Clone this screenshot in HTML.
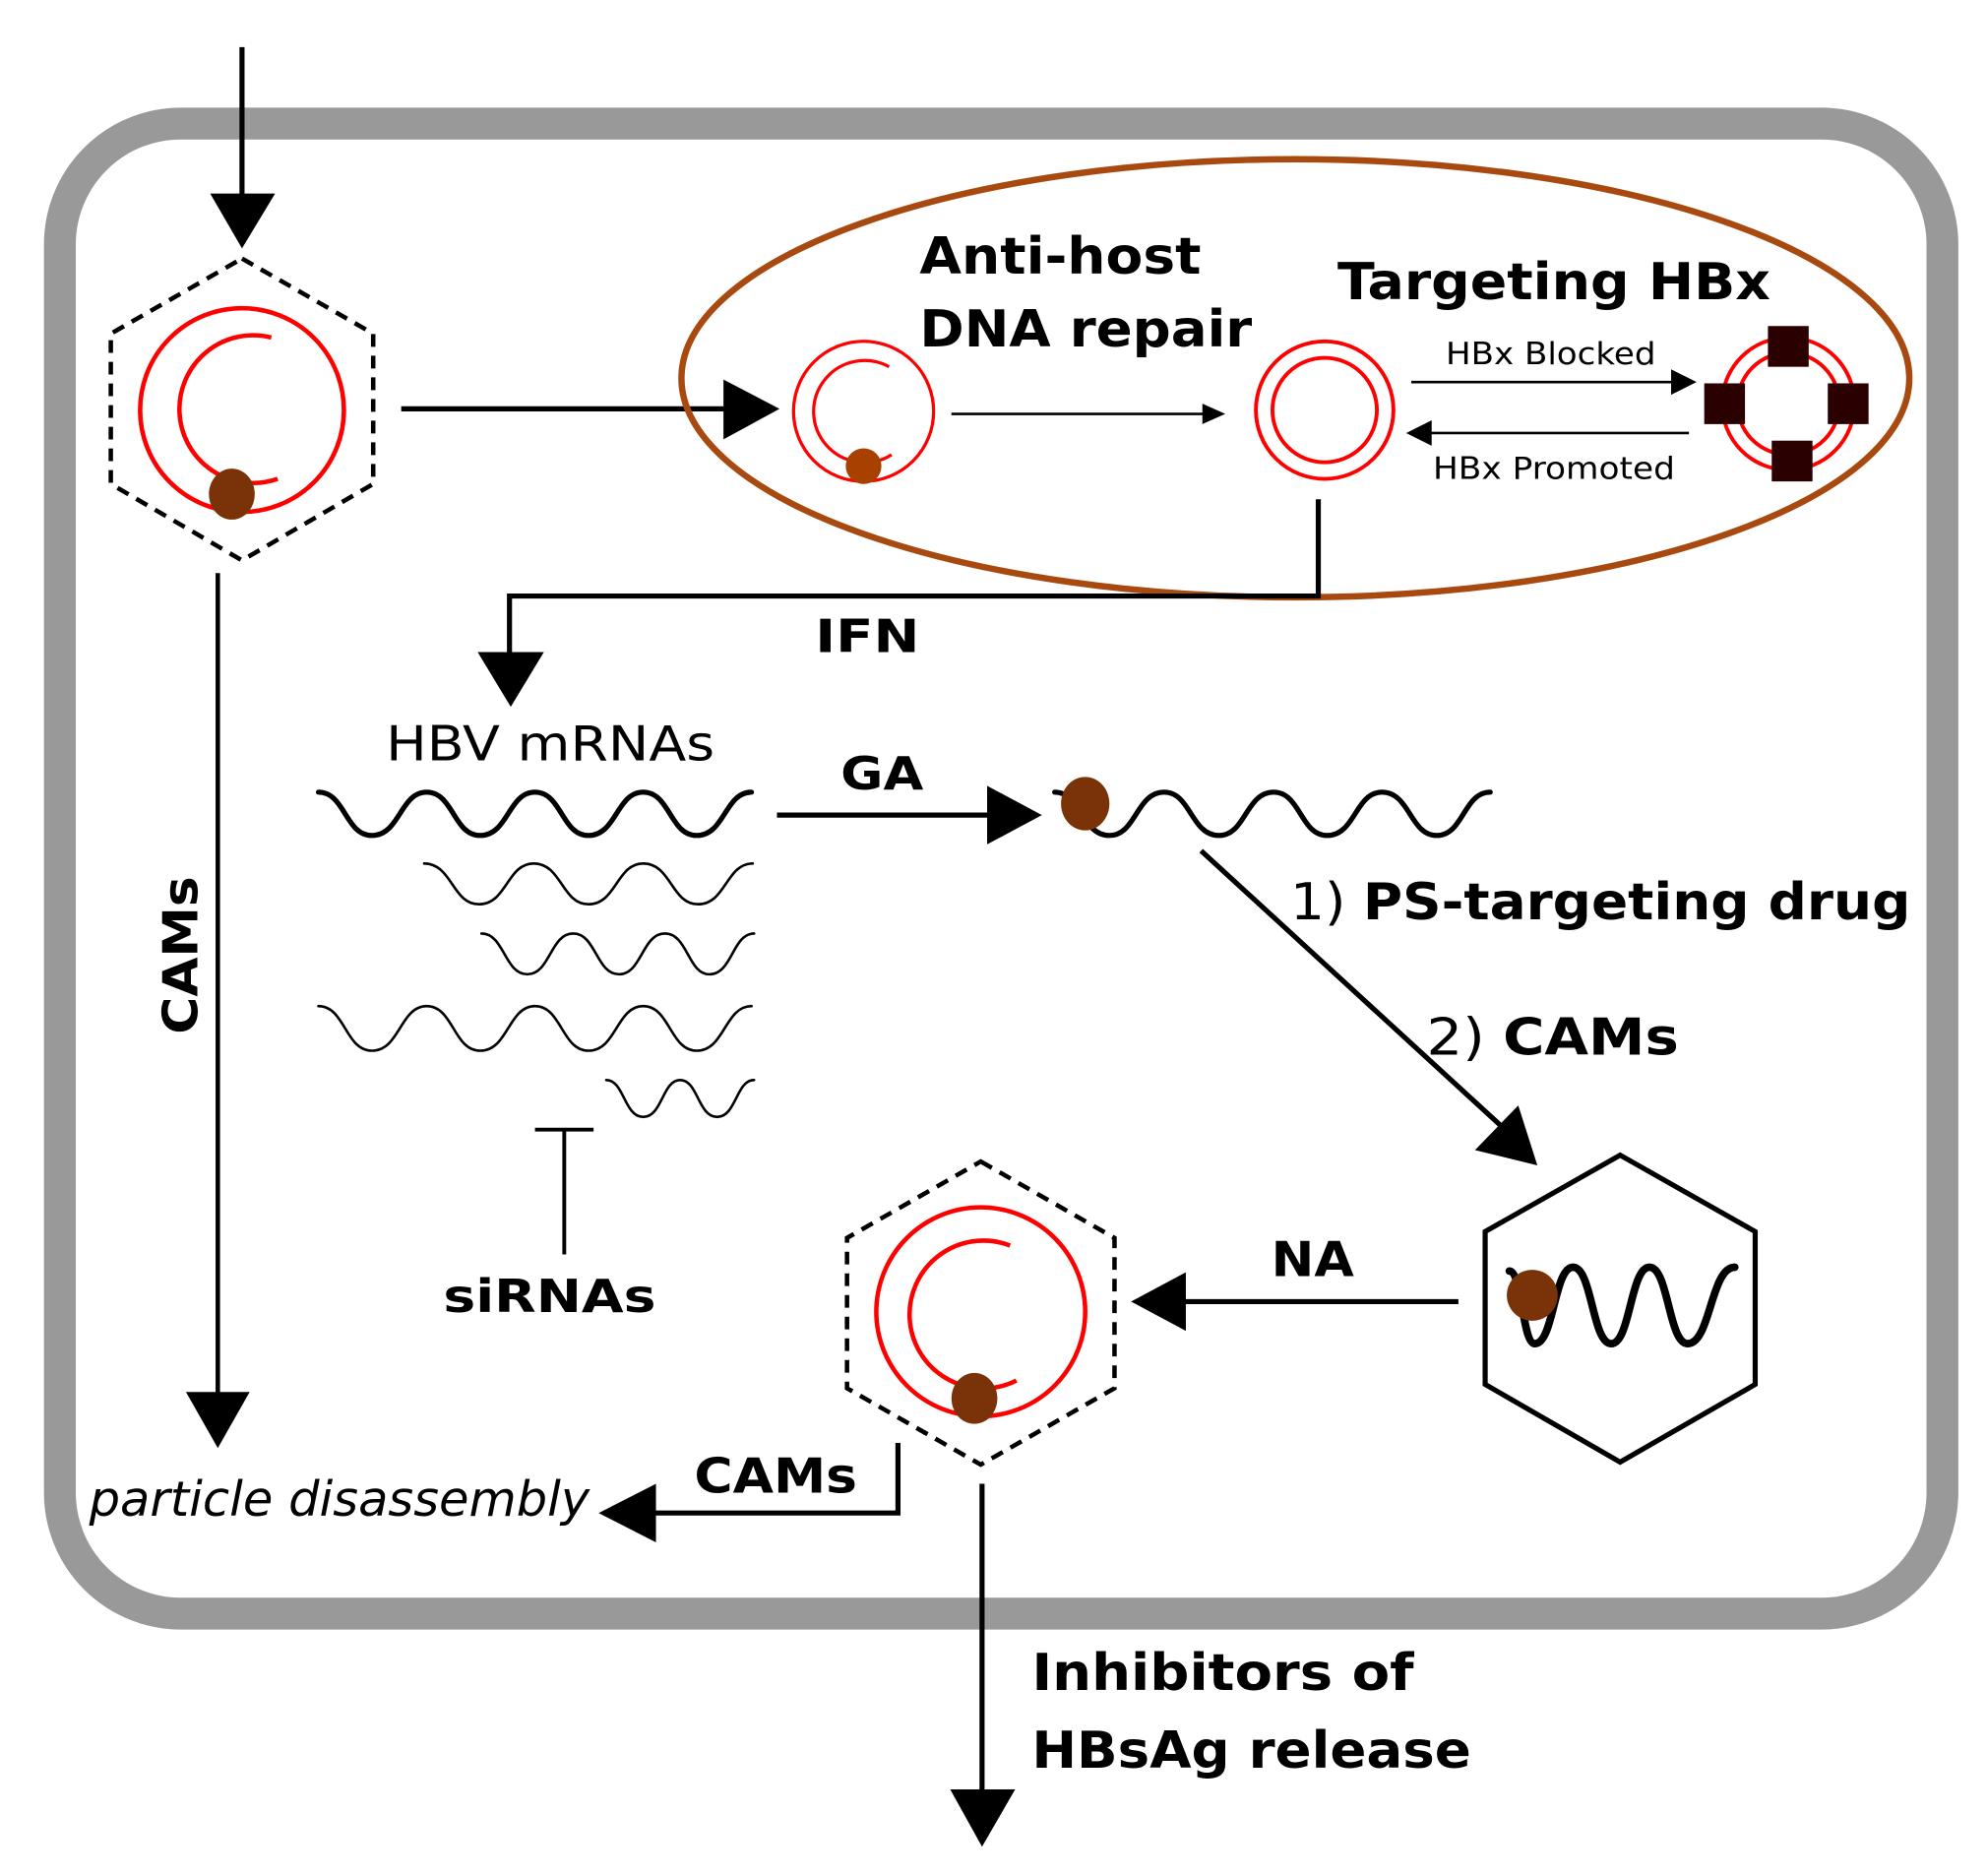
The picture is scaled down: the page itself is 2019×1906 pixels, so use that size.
<!DOCTYPE html>
<html><head><style>html,body{margin:0;padding:0;background:#fff}svg{display:block}</style></head>
<body>
<svg width="2019" height="1906" viewBox="0 0 1560 1473" preserveAspectRatio="none" xmlns="http://www.w3.org/2000/svg" font-family="'DejaVu Sans','Liberation Sans',sans-serif">
<rect x="47" y="97" width="1478" height="1170" rx="95" ry="95" fill="none" stroke="#999" stroke-width="25"/>
<line x1="190" y1="37" x2="190" y2="160" stroke="#000" stroke-width="4"/>
<polygon points="165,152 216,152 190,195" fill="#000"/>
<polygon points="190,203 293,262 293,380 190,440 87,380 87,262" fill="none" stroke="#000" stroke-width="3.5" stroke-dasharray="10,7"/>
<circle cx="190" cy="322" r="80" fill="none" stroke="#f00" stroke-width="3.5"/>
<path d="M213,265 A58,58 0 1 0 218,376" fill="none" stroke="#f00" stroke-width="3.5"/>
<ellipse cx="182" cy="388" rx="18" ry="20" fill="#7a3308"/>
<line x1="315" y1="321" x2="575" y2="321" stroke="#000" stroke-width="4"/>
<polygon points="568,298 612,321 568,345" fill="#000"/>
<ellipse cx="1017" cy="297" rx="482" ry="172" fill="none" stroke="#a84a10" stroke-width="5"/>
<circle cx="678" cy="323" r="55" fill="none" stroke="#f00" stroke-width="2.5"/>
<path d="M698,288 A40,40 0 1 0 700,357" fill="none" stroke="#f00" stroke-width="2.5"/>
<circle cx="678" cy="366" r="14" fill="#a84000"/>
<line x1="747" y1="325" x2="950" y2="325" stroke="#000" stroke-width="2"/>
<polygon points="944,317 962,325 944,333" fill="#000"/>
<circle cx="1040" cy="322" r="54" fill="none" stroke="#f00" stroke-width="3"/>
<circle cx="1040" cy="322" r="41" fill="none" stroke="#f00" stroke-width="3"/>
<line x1="1108" y1="300" x2="1320" y2="300" stroke="#000" stroke-width="2"/>
<polygon points="1312,290 1332,300 1312,310" fill="#000"/>
<text x="1135" y="286" font-size="24" textLength="165" lengthAdjust="spacingAndGlyphs">HBx Blocked</text>
<line x1="1326" y1="340" x2="1115" y2="340" stroke="#000" stroke-width="2"/>
<polygon points="1124,330 1104,340 1124,350" fill="#000"/>
<text x="1125" y="376" font-size="24" textLength="190" lengthAdjust="spacingAndGlyphs">HBx Promoted</text>
<circle cx="1404" cy="317" r="52" fill="none" stroke="#f00" stroke-width="3"/>
<circle cx="1404" cy="317" r="40" fill="none" stroke="#f00" stroke-width="3"/>
<g fill="#2a0000">
<rect x="1388" y="256" width="32" height="32"/>
<rect x="1338" y="301" width="32" height="32"/>
<rect x="1435" y="301" width="32" height="32"/>
<rect x="1391" y="346" width="32" height="32"/>
</g>
<g font-weight="bold" font-size="40" lengthAdjust="spacingAndGlyphs">
<text x="722" y="215" textLength="221" lengthAdjust="spacingAndGlyphs">Anti-host</text>
<text x="722" y="272" textLength="261" lengthAdjust="spacingAndGlyphs">DNA repair</text>
<text x="1050" y="235" textLength="340" lengthAdjust="spacingAndGlyphs">Targeting HBx</text>
</g>
<polyline points="1035,392 1035,468 400,468 400,515" fill="none" stroke="#000" stroke-width="4"/>
<polygon points="375,512 427,512 401,555" fill="#000"/>
<text x="640" y="512" font-size="36" font-weight="bold" textLength="82" lengthAdjust="spacingAndGlyphs">IFN</text>
<text x="303" y="597" font-size="38" textLength="258" lengthAdjust="spacingAndGlyphs">HBV mRNAs</text>
<g fill="none" stroke="#000" stroke-linecap="round">
<path stroke-width="4" d="M250,622 C271,622 271,656 292,656 C314,656 314,622 335,622 C356,622 356,656 377,656 C399,656 399,622 420,622 C441,622 441,656 462,656 C484,656 484,622 505,622 C526,622 526,656 547,656 C569,656 569,622 590,622"/>
<path stroke-width="2" d="M333,678 C355,678 355,710 376,710 C398,710 398,678 419,678 C441,678 441,710 462,710 C484,710 484,678 505,678 C527,678 527,710 548,710 C570,710 570,678 591,678"/>
<path stroke-width="2" d="M378,733 C396,733 396,765 414,765 C432,765 432,733 450,733 C468,733 468,765 486,765 C504,765 504,733 522,733 C540,733 540,765 557,765 C575,765 575,733 592,733"/>
<path stroke-width="2" d="M250,790 C271,790 271,825 292,825 C314,825 314,790 335,790 C356,790 356,825 377,825 C399,825 399,790 420,790 C441,790 441,825 462,825 C484,825 484,790 505,790 C526,790 526,825 547,825 C569,825 569,790 590,790"/>
<path stroke-width="2" d="M476,848 C490,848 490,877 505,877 C520,877 520,848 534,848 C548,848 548,877 563,877 C578,877 578,848 592,848"/>
<path stroke-width="4" d="M828,622 C849,622 849,656 871,656 C892,656 892,622 914,622 C935,622 935,656 957,656 C978,656 978,622 1000,622 C1021,622 1021,656 1042,656 C1064,656 1064,622 1085,622 C1107,622 1107,656 1128,656 C1149,656 1149,622 1170,622"/>
<path stroke-width="6" d="M1185,998 C1195,998 1195,1055 1205,1055 C1220,1055 1220,995 1235,995 C1250,995 1250,1055 1265,1055 C1280,1055 1280,995 1295,995 C1310,995 1310,1055 1325,1055 C1343,1055 1343,995 1362,995"/>
</g>
<ellipse cx="852" cy="631" rx="19" ry="21" fill="#7a3308"/>
<circle cx="1203" cy="1017" r="20" fill="#7a3308"/>
<line x1="443" y1="887" x2="443" y2="985" stroke="#000" stroke-width="3"/>
<line x1="420" y1="887" x2="466" y2="887" stroke="#000" stroke-width="3"/>
<text x="348" y="1030" font-size="36" font-weight="bold" textLength="167" lengthAdjust="spacingAndGlyphs">siRNAs</text>
<line x1="610" y1="640" x2="780" y2="640" stroke="#000" stroke-width="4"/>
<polygon points="775,617 818,640 775,663" fill="#000"/>
<text x="660" y="620" font-size="36" font-weight="bold" textLength="65" lengthAdjust="spacingAndGlyphs">GA</text>
<line x1="943" y1="668" x2="1185" y2="890" stroke="#000" stroke-width="4"/>
<polygon points="1158,903 1192,868 1207,915" fill="#000"/>
<text x="1013" y="722" font-size="40" textLength="487" lengthAdjust="spacingAndGlyphs"><tspan>1) </tspan><tspan font-weight="bold">PS-targeting drug</tspan></text>
<text x="1120" y="828" font-size="40" textLength="198" lengthAdjust="spacingAndGlyphs"><tspan>2) </tspan><tspan font-weight="bold">CAMs</tspan></text>
<polygon points="1272,907 1378,967 1378,1087 1272,1148 1166,1087 1166,967" fill="none" stroke="#000" stroke-width="4"/>
<line x1="1145" y1="1022" x2="925" y2="1022" stroke="#000" stroke-width="4"/>
<polygon points="931,999 888,1022 931,1045" fill="#000"/>
<text x="998" y="1002" font-size="38" font-weight="bold" textLength="65" lengthAdjust="spacingAndGlyphs">NA</text>
<polygon points="770,912 875,972 875,1090 770,1150 665,1090 665,972" fill="none" stroke="#000" stroke-width="3.5" stroke-dasharray="10,7"/>
<circle cx="770" cy="1030" r="82" fill="none" stroke="#f00" stroke-width="3.5"/>
<path d="M793,978 A58,58 0 1 0 798,1084" fill="none" stroke="#f00" stroke-width="3.5"/>
<ellipse cx="765" cy="1098" rx="18" ry="20" fill="#7a3308"/>
<polyline points="705,1133 705,1188 510,1188" fill="none" stroke="#000" stroke-width="4"/>
<polygon points="515,1165 470,1188 515,1211" fill="#000"/>
<text x="545" y="1172" font-size="38" font-weight="bold" textLength="128" lengthAdjust="spacingAndGlyphs">CAMs</text>
<text x="70" y="1190" font-size="38" font-style="italic" textLength="393" lengthAdjust="spacingAndGlyphs">particle disassembly</text>
<line x1="171" y1="450" x2="171" y2="1100" stroke="#000" stroke-width="3.5"/>
<polygon points="146,1093 196,1093 171,1137" fill="#000"/>
<text transform="translate(155,812) rotate(-90)" font-size="38" font-weight="bold" textLength="124" lengthAdjust="spacingAndGlyphs">CAMs</text>
<line x1="771" y1="1165" x2="771" y2="1410" stroke="#000" stroke-width="4"/>
<polygon points="746,1405 797,1405 771,1450" fill="#000"/>
<g font-weight="bold" font-size="40">
<text x="810" y="1327" textLength="300" lengthAdjust="spacingAndGlyphs">Inhibitors of</text>
<text x="810" y="1388" textLength="345" lengthAdjust="spacingAndGlyphs">HBsAg release</text>
</g>
</svg>
</body></html>
